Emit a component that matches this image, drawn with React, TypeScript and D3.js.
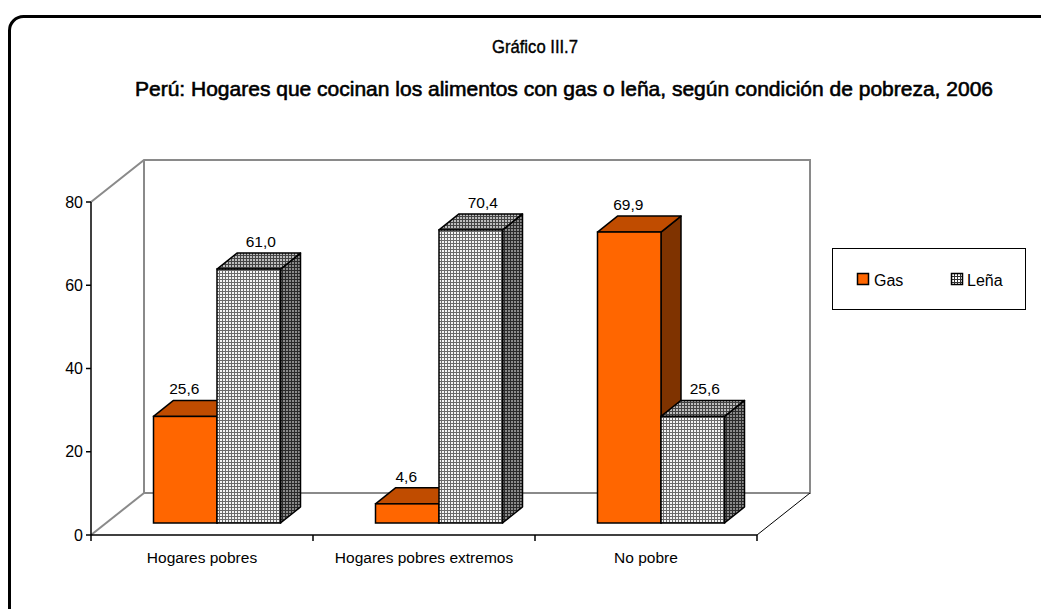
import React from "react";
import * as d3 from "d3";

const categories = ["Hogares pobres", "Hogares pobres extremos", "No pobre"];
const seriesNames = ["Gas", "Leña"];
const gasValues = [25.6, 4.6, 69.9];
const lenaValues = [61.0, 70.4, 25.6];
const yTicks = [0, 20, 40, 60, 80];

const W = 1041;
const H = 609;
const FONT = "'Liberation Sans', Arial, sans-serif";

export default function App() {
  const x0 = 91, x1 = 757;
  const yTop = 202, yBot = 535;
  const depthX = 53, depthY = 42; // full floor depth
  const planeX = 15, planeY = 12; // bars front plane offset
  const barDX = 20, barDY = 16; // bar depth

  const y = d3.scaleLinear().domain([0, 80]).range([yBot, yTop]);
  const x = d3.scaleBand<string>().domain(categories).range([x0, x1]);
  const pairW = 127;
  const inner = d3.scaleBand<string>().domain(seriesNames).range([0, pairW]);

  const series = [
    { name: "Gas", values: gasValues },
    { name: "Leña", values: lenaValues },
  ];

  const bars: React.ReactNode[] = [];
  const labels: React.ReactNode[] = [];
  categories.forEach((c, ci) => {
    const start = (x(c) as number) + (x.bandwidth() - pairW) / 2 + planeX;
    series.forEach((s, si) => {
      const v = s.values[ci];
      const bx = start + (inner(s.name) as number);
      const bw = inner.bandwidth();
      const bottom = yBot - planeY;
      const top = y(v) - planeY;
      const isGas = s.name === "Gas";
      const front = isGas ? "#FF6600" : "url(#pFront)";
      const topFill = isGas ? "#C04C00" : "url(#pTop)";
      const sideFill = isGas ? "#7F3300" : "url(#pSide)";
      const k = `${ci}-${si}`;
      bars.push(
        <g key={k}>
          <polygon
            points={`${bx + bw},${bottom} ${bx + bw + barDX},${bottom - barDY} ${bx + bw + barDX},${top - barDY} ${bx + bw},${top}`}
            fill={sideFill}
            stroke="#000"
            strokeWidth={1.5}
            strokeLinejoin="round"
          />
          <polygon
            points={`${bx},${top} ${bx + barDX},${top - barDY} ${bx + bw + barDX},${top - barDY} ${bx + bw},${top}`}
            fill={topFill}
            stroke="#000"
            strokeWidth={1.5}
            strokeLinejoin="round"
          />
          <rect x={bx} y={top} width={bw} height={bottom - top} fill={front} stroke="#000" strokeWidth={1.5} />
        </g>
      );
      const lx = bx + bw / 2 + (isGas ? -1 : 12);
      labels.push(
        <text key={"l" + k} x={lx} y={top - barDY - 6} textAnchor="middle" fontSize={15.5} fill="#000" fontFamily={FONT}>
          {v.toFixed(1).replace(".", ",")}
        </text>
      );
    });
  });

  const gray = "#8a8a8a";

  return (
    <svg width={W} height={H} style={{ position: "absolute", left: 0, top: 0, background: "#fff" }}>
      <defs>
        <pattern id="pFront" width={3} height={3} patternUnits="userSpaceOnUse">
          <rect width={3} height={3} fill="#f4f4f4" />
          <rect x={0} y={0} width={3} height={1} fill="#6a6a6a" />
          <rect x={0} y={0} width={1} height={3} fill="#6a6a6a" />
        </pattern>
        <pattern id="pTop" width={3} height={3} patternUnits="userSpaceOnUse">
          <rect width={3} height={3} fill="#bdbdbd" />
          <rect x={0} y={0} width={3} height={1} fill="#444" />
          <rect x={0} y={0} width={1} height={3} fill="#444" />
        </pattern>
        <pattern id="pSide" width={3} height={3} patternUnits="userSpaceOnUse">
          <rect width={3} height={3} fill="#8a8a8a" />
          <rect x={0} y={0} width={3} height={1} fill="#2a2a2a" />
          <rect x={0} y={0} width={1} height={3} fill="#2a2a2a" />
        </pattern>
        <pattern id="pLegend" width={3} height={3} patternUnits="userSpaceOnUse">
          <rect width={3} height={3} fill="#fff" />
          <rect x={0} y={0} width={3} height={1} fill="#333" />
          <rect x={0} y={0} width={1} height={3} fill="#333" />
        </pattern>
      </defs>

      {/* outer frame */}
      <rect x={9.5} y={16.5} width={1100} height={700} rx={14} fill="none" stroke="#000" strokeWidth={3} />

      {/* titles */}
      <text x={535} y={53} textAnchor="middle" fontSize={19} fontFamily={FONT} stroke="#000" strokeWidth={0.4} textLength={86} lengthAdjust="spacingAndGlyphs">
        Gráfico  III.7
      </text>
      <text x={564} y={96} textAnchor="middle" fontSize={21} fontFamily={FONT} stroke="#000" strokeWidth={0.6} textLength={858} lengthAdjust="spacingAndGlyphs">
        Perú: Hogares que cocinan los alimentos con gas o leña, según condición de pobreza, 2006
      </text>

      {/* 3D walls */}
      <g fill="none" stroke={gray} strokeWidth={2}>
        <polyline points={`${x0},${yTop} ${x0 + depthX},${yTop - depthY} ${x1 + depthX},${yTop - depthY} ${x1 + depthX},${yBot - depthY} ${x0 + depthX},${yBot - depthY} ${x0 + depthX},${yTop - depthY}`} />
        <line x1={x0} y1={yBot} x2={x0 + depthX} y2={yBot - depthY} />
      </g>
      <line x1={x1} y1={yBot} x2={x1 + depthX} y2={yBot - depthY} stroke="#000" strokeWidth={1} />

      {/* axes */}
      <line x1={x0} y1={yTop} x2={x0} y2={yBot} stroke="#000" strokeWidth={1.5} />
      <line x1={x0} y1={yBot} x2={x1} y2={yBot} stroke="#000" strokeWidth={1.5} />
      {yTicks.map((t) => (
        <g key={"yt" + t}>
          <line x1={x0 - 5} y1={y(t)} x2={x0} y2={y(t)} stroke="#000" strokeWidth={1.5} />
          <text x={x0 - 8} y={y(t) + 5.5} textAnchor="end" fontSize={16} fontFamily={FONT}>
            {t}
          </text>
        </g>
      ))}
      {[...categories.map((c) => x(c) as number), x1].map((xx, i) => (
        <line key={"xt" + i} x1={xx} y1={yBot} x2={xx} y2={yBot + 6} stroke="#000" strokeWidth={1.5} />
      ))}
      {categories.map((c) => (
        <text key={"cl" + c} x={(x(c) as number) + x.bandwidth() / 2} y={563} textAnchor="middle" fontSize={15.5} fontFamily={FONT}>
          {c}
        </text>
      ))}

      {bars}
      {labels}

      {/* legend */}
      <rect x={832.5} y={248.5} width={193} height={61} fill="#fff" stroke="#000" strokeWidth={1} />
      <rect x={857.5} y={273.5} width={11} height={11} fill="#FF6600" stroke="#000" strokeWidth={1.5} />
      <text x={874} y={285.5} fontSize={16} fontFamily={FONT}>Gas</text>
      <rect x={951.5} y={273.5} width={11} height={11} fill="url(#pLegend)" stroke="#000" strokeWidth={1.5} />
      <text x={967} y={285.5} fontSize={16} fontFamily={FONT}>Leña</text>
    </svg>
  );
}
